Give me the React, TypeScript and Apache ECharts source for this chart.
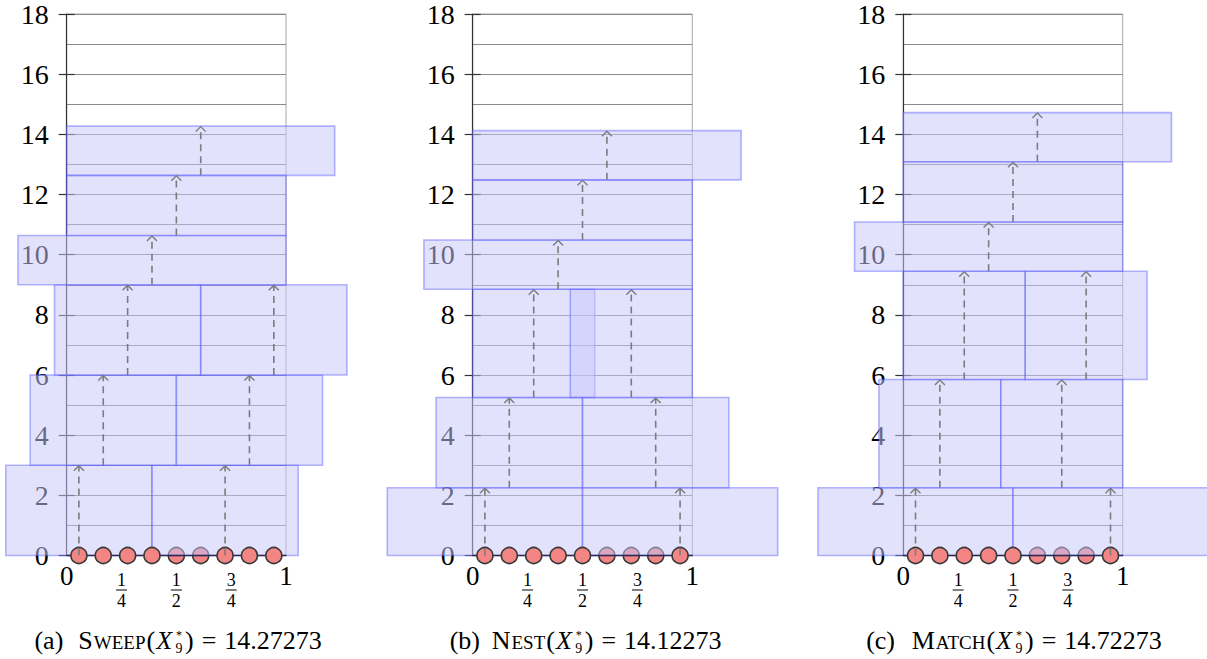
import React, { useEffect, useRef } from "react";
import * as echarts from "echarts";

const FAMILY = "Liberation Serif";

// x positions of the nine points (fractions of the unit interval)
const pointX = [0.0556, 0.1667, 0.2778, 0.3889, 0.5, 0.6111, 0.7222, 0.8333, 0.9444];

// which points appear underneath a box (drawn behind the translucent boxes)
const sweepCovered = [false, false, false, false, true, true, false, false, false];
const nestCovered = [false, false, false, false, false, true, true, true, false];
const matchCovered = [false, false, false, false, false, true, true, true, false];

// boxes: [centre x, bottom y, width, height]; each box also carries the arrow at its centre
const sweepBoxes = [
  [0.0556, 0, 0.6667, 3],
  [0.7222, 0, 0.6667, 3],
  [0.1667, 3, 0.6667, 3],
  [0.8333, 3, 0.6667, 3],
  [0.2778, 6, 0.6667, 3],
  [0.9444, 6, 0.6667, 3],
  [0.3889, 9, 1.2222, 1.6364],
  [0.5, 10.6364, 1, 2],
  [0.6111, 12.6364, 1.2222, 1.6364],
];
const nestBoxes = [
  [0.0556, 0, 0.8889, 2.25],
  [0.9444, 0, 0.8889, 2.25],
  [0.1667, 2.25, 0.6667, 3],
  [0.8333, 2.25, 0.6667, 3],
  [0.2778, 5.25, 0.5556, 3.6],
  [0.7222, 5.25, 0.5556, 3.6],
  [0.3889, 8.85, 1.2222, 1.6364],
  [0.5, 10.4864, 1, 2],
  [0.6111, 12.4864, 1.2222, 1.6364],
];
const matchBoxes = [
  [0.0556, 0, 0.8889, 2.25],
  [0.9444, 0, 0.8889, 2.25],
  [0.1667, 2.25, 0.5556, 3.6],
  [0.7222, 2.25, 0.5556, 3.6],
  [0.2778, 5.85, 0.5556, 3.6],
  [0.8333, 5.85, 0.5556, 3.6],
  [0.3889, 9.45, 1.2222, 1.6364],
  [0.5, 11.0864, 1, 2],
  [0.6111, 13.0864, 1.2222, 1.6364],
];

// axis labels
const xIntegerTicks = [0, 1];
const xFractionTicks: [number, string, string][] = [
  [0.25, "1", "4"],
  [0.5, "1", "2"],
  [0.75, "3", "4"],
];
const yMin = 0;
const yMax = 18;
const yStep = 2;

// captions
const captionTags = ["a", "b", "c"];
const captionInitials = ["S", "N", "M"];
const captionRests = ["WEEP", "EST", "ATCH"];
const captionValues = ["14.27273", "14.12273", "14.72273"];

const panels = [
  { left: 66.7, width: 219.3, boxes: sweepBoxes, covered: sweepCovered, labelRight: 63.3, nameLeft: 78.3 },
  { left: 472.7, width: 219.6, boxes: nestBoxes, covered: nestCovered, labelRight: 480, nameLeft: 491.7 },
  { left: 903.3, width: 219.4, boxes: matchBoxes, covered: matchCovered, labelRight: 895, nameLeft: 911.7 },
];

const GRID_TOP = 11;
const GRID_H = 544.5;

let measureCtx: CanvasRenderingContext2D | null = null;
function measure(text: string, size: number, italic = false) {
  if (!measureCtx) measureCtx = document.createElement("canvas").getContext("2d");
  if (!measureCtx) return text.length * size * 0.5;
  measureCtx.font = `${italic ? "italic " : ""}${size}px ${FAMILY}`;
  return measureCtx.measureText(text).width;
}

function textEl(t: string, x: number, y: number, size: number, align: string, italic = false) {
  return {
    type: "text",
    x,
    y,
    silent: true,
    style: {
      text: t,
      fontSize: size,
      fontFamily: FAMILY,
      fontStyle: italic ? "italic" : "normal",
      fill: "#000",
      align,
      textAlign: align,
      verticalAlign: "middle",
      textVerticalAlign: "middle",
    },
  };
}

function captionElements(i: number) {
  const p = panels[i];
  const F = 26;
  const FS = 19;
  const yMid = 640;
  const els: any[] = [];
  els.push(textEl(`(${captionTags[i]})`, p.labelRight, yMid, F, "right"));
  let x = p.nameLeft;
  const push = (t: string, size: number, italic = false, dy = 0) => {
    els.push(textEl(t, x, yMid + dy, size, "left", italic));
    x += measure(t, size, italic) + 1;
  };
  push(captionInitials[i], F);
  push(captionRests[i], FS, false, 2.4);
  push("(", F);
  push("X", F, true);
  x += 2.5;
  els.push(textEl("*", x + 0.5, yMid - 5.5, 12, "left"));
  els.push(textEl("9", x, yMid + 8.5, 14, "left"));
  x += Math.max(measure("*", 12), measure("9", 14)) + 2.5;
  push(")", F);
  x += 7;
  push("=", F);
  x += 7;
  push(captionValues[i], F);
  return els;
}

function buildOption() {
  const grid: any[] = [];
  const xAxis: any[] = [];
  const yAxis: any[] = [];
  const series: any[] = [];
  const graphic: any[] = [];

  const fracMap: Record<string, string> = {};
  xFractionTicks.forEach(([v, n, d]) => {
    fracMap[String(v)] = `{n|${n}}\n{b|}\n{d|${d}}`;
  });

  const FRAC_SIZE = 18;
  const FRAC_LH = 20;

  panels.forEach((p, i) => {
    grid.push({
      left: p.left,
      top: GRID_TOP,
      width: p.width,
      height: GRID_H,
      show: true,
      borderColor: "#a8a8a8",
      borderWidth: 1,
      backgroundColor: "transparent",
    });
    // integer labels + axis line
    xAxis.push({
      type: "value",
      gridIndex: i,
      z: 3,
      min: xIntegerTicks[0],
      max: xIntegerTicks[xIntegerTicks.length - 1],
      interval: 1,
      axisLine: { show: true, onZero: false, lineStyle: { color: "#2a2a50", width: 1.3 } },
      axisTick: { show: false },
      splitLine: { show: false },
      axisLabel: {
        margin: 7,
        fontSize: 27,
        lineHeight: 27,
        fontFamily: FAMILY,
        color: "#000",
        showMinLabel: true,
        showMaxLabel: true,
      },
    });
    // fraction labels
    xAxis.push({
      type: "value",
      gridIndex: i,
      position: "bottom",
      min: 0,
      max: 1,
      interval: 0.25,
      axisLine: { show: false },
      axisTick: { show: false },
      splitLine: { show: false },
      axisLabel: {
        margin: 14,
        color: "#000",
        fontFamily: FAMILY,
        fontSize: FRAC_SIZE,
        lineHeight: FRAC_LH,
        formatter: (v: number) => fracMap[String(v)] || "",
        rich: {
          n: { fontSize: FRAC_SIZE, lineHeight: FRAC_LH, fontFamily: FAMILY, color: "#000" },
          b: { width: 11, height: 1, lineHeight: 1, fontSize: 1, backgroundColor: "#000" },
          d: { fontSize: FRAC_SIZE, lineHeight: FRAC_LH, fontFamily: FAMILY, color: "#000" },
        },
      },
    });
    const gridLine = { color: "#8a8a8a", width: 1 };
    yAxis.push({
      type: "value",
      gridIndex: i,
      position: "left",
      min: yMin,
      max: yMax,
      interval: yStep,
      axisLine: { show: true, onZero: false, lineStyle: { color: "#333", width: 1.2 } },
      axisTick: { show: true, length: 8, lineStyle: { color: "#333", width: 1.2 } },
      axisLabel: { margin: 18, fontSize: 28, fontFamily: FAMILY, color: "#000" },
      splitLine: { show: true, lineStyle: gridLine },
      minorTick: { show: false, splitNumber: 2 },
      minorSplitLine: { show: true, lineStyle: gridLine },
    });
    yAxis.push({
      type: "value",
      gridIndex: i,
      position: "left",
      min: yMin,
      max: yMax,
      interval: yStep,
      axisLine: { show: false },
      axisTick: { show: true, inside: true, length: 8, lineStyle: { color: "#333", width: 1.2 } },
      axisLabel: { show: false },
      splitLine: { show: false },
    });

    const xi = i * 2;
    const yi = i * 2;
    const back = pointX.filter((_, k) => p.covered[k]).map((x) => [x, 0]);
    const front = pointX.filter((_, k) => !p.covered[k]).map((x) => [x, 0]);
    const pointStyle = { color: "#f38585", borderColor: "#383838", borderWidth: 1.6, opacity: 1 };

    series.push({
      type: "scatter",
      xAxisIndex: xi,
      yAxisIndex: yi,
      data: back,
      symbolSize: 16,
      clip: false,
      z: 1,
      itemStyle: pointStyle,
      silent: true,
    });
    series.push({
      type: "custom",
      xAxisIndex: xi,
      yAxisIndex: yi,
      data: p.boxes,
      clip: false,
      z: 2,
      silent: true,
      renderItem: (_params: any, api: any) => {
        const cx = api.value(0);
        const y0 = api.value(1);
        const w = api.value(2);
        const h = api.value(3);
        const a = api.coord([cx - w / 2, y0 + h]);
        const b = api.coord([cx + w / 2, y0]);
        return {
          type: "rect",
          shape: { x: a[0], y: a[1], width: b[0] - a[0], height: b[1] - a[1] },
          style: { fill: "rgba(200,200,252,0.52)", stroke: "rgba(80,80,255,0.42)", lineWidth: 1.6 },
        };
      },
    });
    series.push({
      type: "scatter",
      xAxisIndex: xi,
      yAxisIndex: yi,
      data: front,
      symbolSize: 16,
      clip: false,
      z: 4,
      itemStyle: pointStyle,
      silent: true,
    });
    series.push({
      type: "custom",
      xAxisIndex: xi,
      yAxisIndex: yi,
      data: p.boxes,
      clip: false,
      z: 5,
      silent: true,
      renderItem: (_params: any, api: any) => {
        const cx = api.value(0);
        const y0 = api.value(1);
        const h = api.value(3);
        const top = api.coord([cx, y0 + h]);
        const bot = api.coord([cx, y0]);
        const col = "#7c7c7c";
        return {
          type: "group",
          children: [
            {
              type: "line",
              shape: { x1: bot[0], y1: bot[1], x2: top[0], y2: top[1] + 1 },
              style: { stroke: col, lineWidth: 1.6, lineDash: [7, 5] },
            },
            {
              type: "polyline",
              shape: {
                points: [
                  [top[0] - 5, top[1] + 5.5],
                  [top[0], top[1] + 0.5],
                  [top[0] + 5, top[1] + 5.5],
                ],
              },
              style: { stroke: col, lineWidth: 1.4, fill: "none" },
            },
          ],
        };
      },
    });

    graphic.push(...captionElements(i));
  });

  return {
    animation: false,
    backgroundColor: "#fff",
    textStyle: { fontFamily: FAMILY },
    grid,
    xAxis,
    yAxis,
    series,
    graphic,
  };
}

export default function App() {
  const ref = useRef<HTMLDivElement>(null);
  useEffect(() => {
    if (!ref.current) return;
    const chart = echarts.init(ref.current, null, { renderer: "svg" });
    chart.setOption(buildOption() as any);
    return () => chart.dispose();
  }, []);
  return (
    <div
      ref={ref}
      style={{ position: "absolute", left: 0, top: 0, width: 1207, height: 659 }}
    />
  );
}
